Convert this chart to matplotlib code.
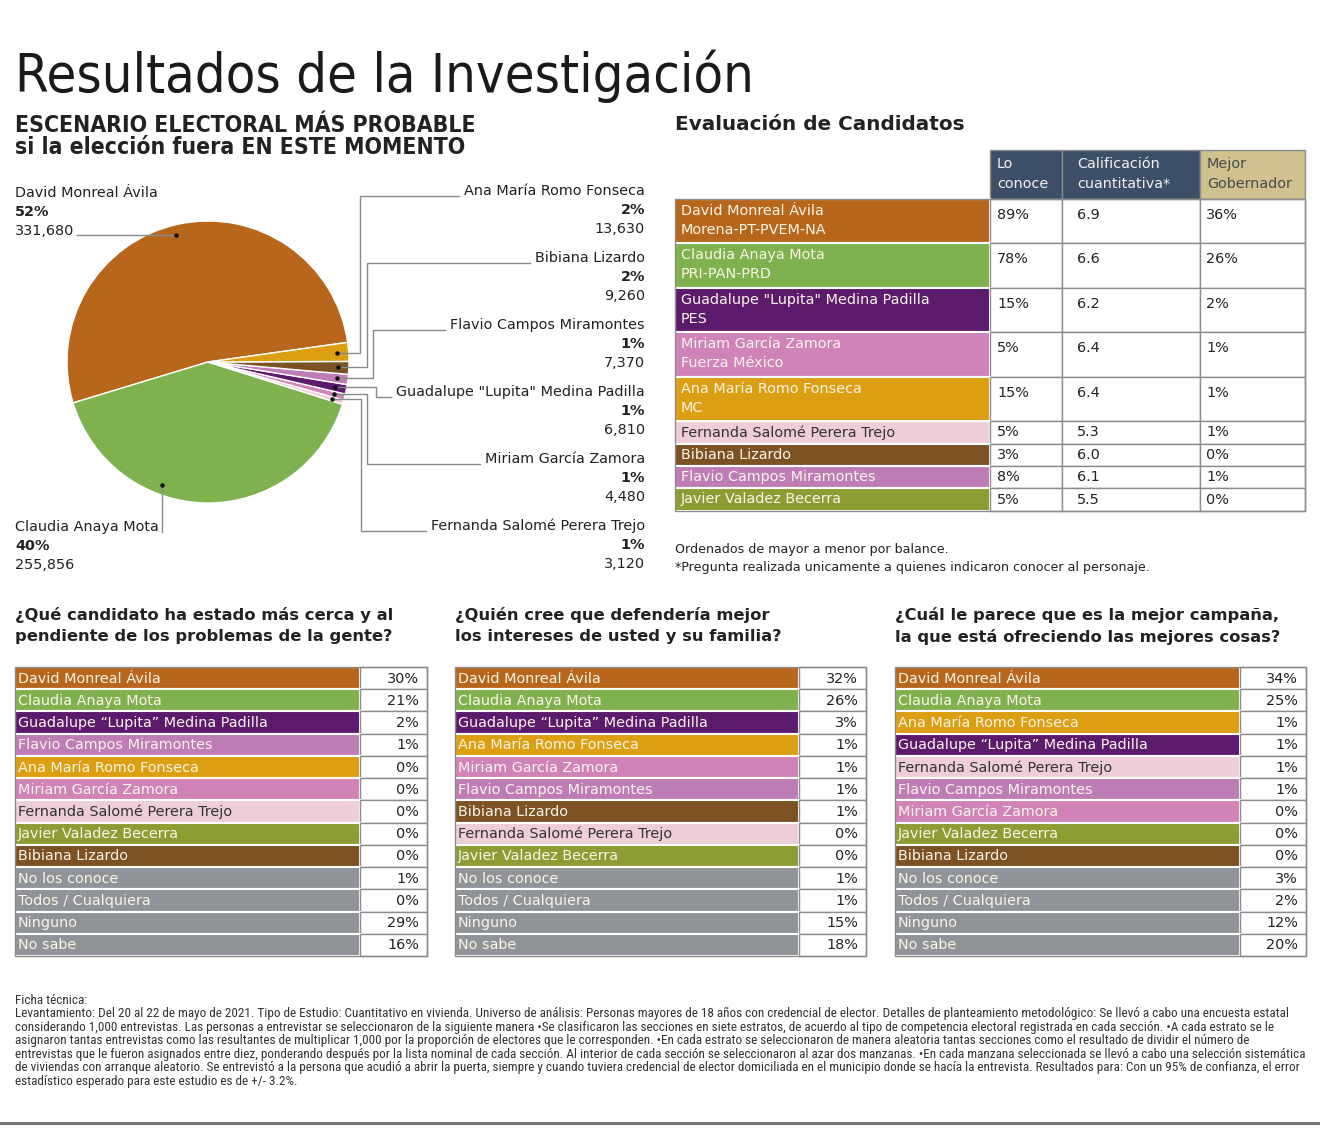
import numpy as np
import matplotlib
matplotlib.use('Agg')
import matplotlib.pyplot as plt
import matplotlib.font_manager as fm
from matplotlib.patches import Rectangle

# ---- data ----
pie_names = ['David Monreal Ávila', 'Claudia Anaya Mota', 'Fernanda Salomé Perera Trejo',
             'Miriam García Zamora', 'Guadalupe "Lupita" Medina Padilla',
             'Flavio Campos Miramontes', 'Bibiana Lizardo', 'Ana María Romo Fonseca']
pie_pct = ['52%', '40%', '1%', '1%', '1%', '1%', '2%', '2%']
pie_votes = [331680, 255856, 3120, 4480, 6810, 7370, 9260, 13630]

eval_names = ['David Monreal Ávila', 'Claudia Anaya Mota', 'Guadalupe "Lupita" Medina Padilla',
              'Miriam García Zamora', 'Ana María Romo Fonseca', 'Fernanda Salomé Perera Trejo',
              'Bibiana Lizardo', 'Flavio Campos Miramontes', 'Javier Valadez Becerra']
eval_party = ['Morena-PT-PVEM-NA', 'PRI-PAN-PRD', 'PES', 'Fuerza México', 'MC', '', '', '', '']
eval_conoce = [89, 78, 15, 5, 15, 5, 3, 8, 5]
eval_calif = [6.9, 6.6, 6.2, 6.4, 6.4, 5.3, 6.0, 6.1, 5.5]
eval_mejor = [36, 26, 2, 1, 1, 1, 0, 1, 0]
eval_headers = [('Lo', 'conoce'), ('Calificación', 'cuantitativa*'), ('Mejor', 'Gobernador')]

q1_title = ['¿Qué candidato ha estado más cerca y al', 'pendiente de los problemas de la gente?']
q1_names = ['David Monreal Ávila', 'Claudia Anaya Mota', 'Guadalupe “Lupita” Medina Padilla',
            'Flavio Campos Miramontes', 'Ana María Romo Fonseca', 'Miriam García Zamora',
            'Fernanda Salomé Perera Trejo', 'Javier Valadez Becerra', 'Bibiana Lizardo',
            'No los conoce', 'Todos / Cualquiera', 'Ninguno', 'No sabe']
q1_vals = [30, 21, 2, 1, 0, 0, 0, 0, 0, 1, 0, 29, 16]

q2_title = ['¿Quién cree que defendería mejor', 'los intereses de usted y su familia?']
q2_names = ['David Monreal Ávila', 'Claudia Anaya Mota', 'Guadalupe “Lupita” Medina Padilla',
            'Ana María Romo Fonseca', 'Miriam García Zamora', 'Flavio Campos Miramontes',
            'Bibiana Lizardo', 'Fernanda Salomé Perera Trejo', 'Javier Valadez Becerra',
            'No los conoce', 'Todos / Cualquiera', 'Ninguno', 'No sabe']
q2_vals = [32, 26, 3, 1, 1, 1, 1, 0, 0, 1, 1, 15, 18]

q3_title = ['¿Cuál le parece que es la mejor campaña,', 'la que está ofreciendo las mejores cosas?']
q3_names = ['David Monreal Ávila', 'Claudia Anaya Mota', 'Ana María Romo Fonseca',
            'Guadalupe “Lupita” Medina Padilla', 'Fernanda Salomé Perera Trejo',
            'Flavio Campos Miramontes', 'Miriam García Zamora', 'Javier Valadez Becerra',
            'Bibiana Lizardo', 'No los conoce', 'Todos / Cualquiera', 'Ninguno', 'No sabe']
q3_vals = [34, 25, 1, 1, 1, 1, 0, 0, 0, 3, 2, 12, 20]

notes = ['Ordenados de mayor a menor por balance.',
         '*Pregunta realizada unicamente a quienes indicaron conocer al personaje.']

ficha = [
    'Ficha técnica:',
    'Levantamiento: Del 20 al 22 de mayo de 2021. Tipo de Estudio: Cuantitativo en vivienda. Universo de análisis: Personas mayores de 18 años con credencial de elector. Detalles de planteamiento metodológico: Se llevó a cabo una encuesta estatal',
    'considerando 1,000 entrevistas. Las personas a entrevistar se seleccionaron de la siguiente manera •Se clasificaron las secciones en siete estratos, de acuerdo al tipo de competencia electoral registrada en cada sección. •A cada estrato se le',
    'asignaron tantas entrevistas como las resultantes de multiplicar 1,000 por la proporción de electores que le corresponden. •En cada estrato se seleccionaron de manera aleatoria tantas secciones como el resultado de dividir el número de',
    'entrevistas que le fueron asignados entre diez, ponderando después por la lista nominal de cada sección. Al interior de cada sección se seleccionaron al azar dos manzanas. •En cada manzana seleccionada se llevó a cabo una selección sistemática',
    'de viviendas con arranque aleatorio. Se entrevistó a la persona que acudió a abrir la puerta, siempre y cuando tuviera credencial de elector domiciliada en el municipio donde se hacía la entrevista. Resultados para: Con un 95% de confianza, el error',
    'estadístico esperado para este estudio es de +/- 3.2%.',
]

# ---- styles ----
COL = {'David': '#b8661b', 'Claudia': '#80b14f', 'Guadalupe': '#5b1a6c',
       'Miriam': '#d083b7', 'Ana': '#dd9f12', 'Fernanda': '#eecfd7',
       'Bibiana': '#7c5222', 'Flavio': '#bf7db5', 'Javier': '#8e9c34'}
GRAY = '#909498'
INK = '#222222'
LINE = '#8c8c8c'


def colour(name):
    return COL.get(name.split()[0], GRAY)


def ink_for(name):
    return '#333333' if name.startswith('Fernanda') else '#fbf5ea'


def first_font(cands, stretch='normal'):
    for c in cands:
        try:
            p = fm.findfont(fm.FontProperties(family=c, stretch=stretch), fallback_to_default=False)
            return c, p
        except Exception:
            pass
    return 'DejaVu Sans', ''


BODY = 'DejaVu Sans'
_, cpath = first_font(['DejaVu Sans'], stretch='condensed')
COND = 'condensed' if 'ondensed' in cpath else 'normal'
NARROW, _ = first_font(['Liberation Sans Narrow', 'Roboto Condensed', 'Open Sans Condensed', 'DejaVu Sans'])

W, H = 1320, 1128
fig = plt.figure(figsize=(W / 100, H / 100), dpi=100)
fig.patch.set_facecolor('white')
rend = fig.canvas.get_renderer()

ax = fig.add_axes([0, 0, 1, 1])
ax.set_xlim(0, W)
ax.set_ylim(H, 0)
ax.axis('off')


def size_for(s, width, **kw):
    t = fig.text(0, 0, s, fontsize=10, **kw)
    w = t.get_window_extent(renderer=rend).width
    t.remove()
    return 10 * width / w


fs_body = size_for('David Monreal Ávila', 143, family=BODY)
fs_q = size_for('¿Qué candidato ha estado más cerca y al', 379, family=BODY, weight='bold')
fs_eval = size_for('Evaluación de Candidatos', 291, family=BODY, weight='bold')
fs_esc = size_for('ESCENARIO ELECTORAL MÁS PROBABLE', 459, family=BODY, weight='bold', fontstretch=COND)
fs_title = size_for('Resultados de la Investigación', 742, family=BODY, fontstretch=COND)
fs_note = size_for(notes[1], 472, family=BODY)
fs_ficha = size_for(ficha[1], 1275, family=NARROW)


def txt(x, y, s, size=None, weight='normal', ha='left', va='center', color=INK, family=BODY, **kw):
    return ax.text(x, y, s, fontsize=size or fs_body, fontweight=weight, ha=ha, va=va,
                   color=color, family=family, **kw)


# ---- headings ----
txt(15, 92, 'Resultados de la Investigación', size=fs_title, va='baseline', color='#1a1a1a',
    fontstretch=COND)
txt(15, 125, 'ESCENARIO ELECTORAL MÁS PROBABLE', size=fs_esc, weight='bold', fontstretch=COND)
txt(15, 147, 'si la elección fuera EN ESTE MOMENTO', size=fs_esc, weight='bold', fontstretch=COND)
txt(675, 125, 'Evaluación de Candidatos', size=fs_eval, weight='bold')

# ---- pie ----
cx, cy, R = 208, 362, 141
pax = fig.add_axes([(cx - R) / W, 1 - (cy + R) / H, 2 * R / W, 2 * R / H])
wedges, _ = pax.pie(pie_votes, colors=[colour(n) for n in pie_names], startangle=8,
                    counterclock=True, wedgeprops=dict(edgecolor='white', linewidth=1))
pax.set_xlim(-1, 1)
pax.set_ylim(-1, 1)
pax.set_aspect('equal')
pax.axis('off')

top = fig.add_axes([0, 0, 1, 1], facecolor='none')
top.set_xlim(0, W)
top.set_ylim(H, 0)
top.axis('off')


def dot_xy(w, f=0.5, r=0.92):
    a = np.deg2rad(w.theta1 + f * (w.theta2 - w.theta1))
    return cx + r * R * np.cos(a), cy - r * R * np.sin(a)


lead = dict(color='#8a8a8a', lw=1)
gap = 19

# David (top-left)
dx, dy = dot_xy(wedges[0], 0.51, 0.93)
txt(15, 193, pie_names[0])
txt(15, 193 + gap, pie_pct[0], weight='bold')
t = txt(15, 193 + 2 * gap, f'{pie_votes[0]:,}')
bb = t.get_window_extent(renderer=rend)
top.plot([bb.x1 + 3, dx], [dy, dy], **lead)
top.plot(dx, dy, 'o', color='#111', ms=2.2)

# Claudia (bottom-left)
dx, dy = dot_xy(wedges[1], 0.36, 0.93)
t = txt(15, 527, pie_names[1])
txt(15, 527 + gap, pie_pct[1], weight='bold')
txt(15, 527 + 2 * gap, f'{pie_votes[1]:,}')
top.plot([dx, dx], [dy, 532], **lead)
top.plot(dx, dy, 'o', color='#111', ms=2.2)

# small slices, labels on the right
right_order = [7, 6, 5, 4, 3, 2]
right_y = [191, 258, 325, 392, 459, 526]
right_vx = [360, 367, 373, 376, 367, 361]
for i, y, vx in zip(right_order, right_y, right_vx):
    t = txt(645, y, pie_names[i], ha='right')
    txt(645, y + gap, pie_pct[i], ha='right', weight='bold')
    txt(645, y + 2 * gap, f'{pie_votes[i]:,}', ha='right')
    bb = t.get_window_extent(renderer=rend)
    dx, dy = dot_xy(wedges[i], 0.5, 0.92)
    ly = y + 5
    top.plot([bb.x0 - 5, vx, vx, dx], [ly, ly, dy, dy], **lead)
    top.plot(dx, dy, 'o', color='#111', ms=2.2)

# ---- evaluation table ----
cols = [675, 990, 1062, 1200, 1305]
hdr_top, hdr_bot = 150, 199
rows = [199, 243, 288, 332, 377, 421, 444, 466, 488, 511]
hdr_cols = ['#3d4f66', '#3d4f66', '#cfc28f']
hdr_ink = ['#eef1f4', '#eef1f4', '#4a4a4a']
for j, (h1, h2) in enumerate(eval_headers):
    ax.add_patch(Rectangle((cols[j + 1], hdr_top), cols[j + 2] - cols[j + 1], hdr_bot - hdr_top,
                           facecolor=hdr_cols[j], edgecolor=LINE, lw=1))
    txt(cols[j + 1] + 7 + (8 if j == 1 else 0), 164, h1, color=hdr_ink[j])
    txt(cols[j + 1] + 7 + (8 if j == 1 else 0), 184, h2, color=hdr_ink[j])

for i, name in enumerate(eval_names):
    y0, y1 = rows[i], rows[i + 1]
    ax.add_patch(Rectangle((cols[0], y0), cols[1] - cols[0], y1 - y0, facecolor=colour(name),
                           edgecolor='white', lw=1.5))
    for j in range(3):
        ax.add_patch(Rectangle((cols[j + 1], y0), cols[j + 2] - cols[j + 1], y1 - y0,
                               facecolor='white', edgecolor=LINE, lw=1))
    if eval_party[i]:
        txt(681, y0 + 12, name, color=ink_for(name))
        txt(681, y0 + 31, eval_party[i], color=ink_for(name))
        vy = y0 + 16
    else:
        vy = (y0 + y1) / 2
        txt(681, vy, name, color=ink_for(name))
    txt(cols[1] + 7, vy, f'{eval_conoce[i]}%')
    txt(cols[2] + 15, vy, f'{eval_calif[i]:.1f}')
    txt(cols[3] + 6, vy, f'{eval_mejor[i]}%')
ax.add_patch(Rectangle((cols[0], rows[0]), cols[-1] - cols[0], rows[-1] - rows[0],
                       facecolor='none', edgecolor=LINE, lw=1))

txt(675, 549, notes[0], size=fs_note)
txt(675, 567, notes[1], size=fs_note)

# ---- three question tables ----
tables = [(15, 360, 427, q1_title, q1_names, q1_vals),
          (455, 799, 866, q2_title, q2_names, q2_vals),
          (895, 1240, 1306, q3_title, q3_names, q3_vals)]
t_top, t_bot = 667, 956
for left, split, right, title, names, vals in tables:
    txt(left, 615, title[0], size=fs_q, weight='bold')
    txt(left, 637, title[1], size=fs_q, weight='bold')
    rh = (t_bot - t_top) / len(names)
    for k, (n, v) in enumerate(zip(names, vals)):
        y0 = t_top + k * rh
        ax.add_patch(Rectangle((left, y0), split - left, rh, facecolor=colour(n),
                               edgecolor='white', lw=1.5))
        ax.add_patch(Rectangle((split, y0), right - split, rh, facecolor='white',
                               edgecolor=LINE, lw=1))
        txt(left + 3, y0 + rh / 2 + 0.5, n, color=ink_for(n))
        txt(right - 8, y0 + rh / 2 + 0.5, f'{v}%', ha='right')
    ax.add_patch(Rectangle((left, t_top), right - left, t_bot - t_top, facecolor='none',
                           edgecolor=LINE, lw=1))

# ---- ficha tecnica ----
for k, line in enumerate(ficha):
    txt(15, 1000 + k * 13.6, line, size=fs_ficha, family=NARROW, color='#333333')

ax.plot([0, W], [1123, 1123], color='#777777', lw=2.2)

fig.savefig('out.png', dpi=100, facecolor='white')
